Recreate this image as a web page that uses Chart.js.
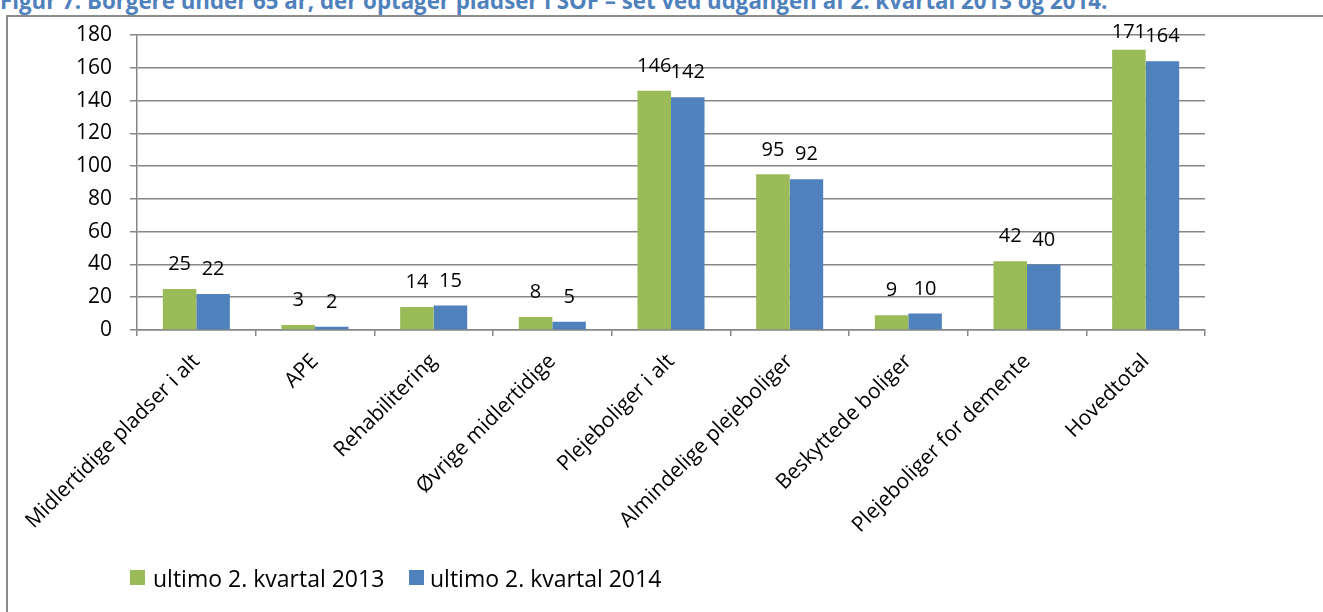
<!DOCTYPE html>
<html>
<head>
<meta charset="utf-8">
<script src="https://cdn.jsdelivr.net/npm/chart.js@4/dist/chart.umd.min.js"></script>
<style>
  html, body { margin: 0; padding: 0; background: #fff; }
  body { width: 1323px; height: 612px; position: relative; overflow: hidden; font-family: "Open Sans", sans-serif; }
  #title { position: absolute; left: 0px; top: -11px; white-space: nowrap; font-family: "Open Sans", sans-serif; font-weight: bold; font-size: 22px; color: #4f81bd; line-height: 24px; }
  #frame { position: absolute; left: 6px; top: 15px; width: 1400px; height: 700px; border-left: 2px solid #8c8c8c; border-top: 2px solid #8c8c8c; }
  #wrap { position: absolute; left: 0; top: 0; width: 1323px; height: 612px; }
  #legend { position: absolute; left: 0; top: 563px; height: 30px; font-size: 23px; color: #000; }
  .item { position: absolute; top: 0; white-space: nowrap; line-height: 30px; }
  .box { position: absolute; top: 7px; width: 15px; height: 15px; }
</style>
</head>
<body>
<div id="frame"></div>
<div id="title">Figur 7. Borgere under 65 år, der optager pladser i SOF – set ved udgangen af 2. kvartal 2013 og 2014.</div>
<div id="wrap"><canvas id="c" width="1323" height="612"></canvas></div>
<div id="legend"></div>
<script>
const categories = [
  "Midlertidige pladser i alt",
  "APE",
  "Rehabilitering",
  "Øvrige midlertidige",
  "Plejeboliger i alt",
  "Almindelige plejeboliger",
  "Beskyttede boliger",
  "Plejeboliger for demente",
  "Hovedtotal"
];
const seriesNames = ["ultimo 2. kvartal 2013", "ultimo 2. kvartal 2014"];
const values2013 = [25, 3, 14, 8, 146, 95, 9, 42, 171];
const values2014 = [22, 2, 15, 5, 142, 92, 10, 40, 164];
const yTicks = [0, 20, 40, 60, 80, 100, 120, 140, 160, 180];
const colors = ["#9bbb59", "#4f81bd"];

// fit title width to the reference span
(function () {
  const t = document.getElementById('title');
  const w = t.getBoundingClientRect().width;
  if (w > 0) t.style.fontSize = (22 * 1108 / w).toFixed(2) + 'px';
})();

// legend (HTML)
const legendEl = document.getElementById('legend');
const legendPos = [{box: 130, text: 153}, {box: 409, text: 430}];
seriesNames.forEach((n, i) => {
  const b = document.createElement('div');
  b.className = 'box'; b.style.left = legendPos[i].box + 'px'; b.style.background = colors[i];
  legendEl.appendChild(b);
  const t = document.createElement('div');
  t.className = 'item'; t.style.left = legendPos[i].text + 'px'; t.textContent = n;
  legendEl.appendChild(t);
});

const valueLabels = {
  id: 'valueLabels',
  afterDatasetsDraw(chart) {
    const ctx = chart.ctx;
    ctx.save();
    ctx.font = '20px "Open Sans", sans-serif';
    ctx.fillStyle = '#000';
    ctx.textAlign = 'center';
    ctx.textBaseline = 'middle';
    chart.data.datasets.forEach((ds, di) => {
      const meta = chart.getDatasetMeta(di);
      meta.data.forEach((bar, i) => {
        let y = bar.y - 24.5;
        if (y < 32) y = 32;
        ctx.fillText(String(ds.data[i]), bar.x, y);
      });
    });
    ctx.restore();
  }
};

new Chart(document.getElementById('c'), {
  type: 'bar',
  data: {
    labels: categories,
    datasets: [
      { label: seriesNames[0], data: values2013, backgroundColor: colors[0], borderWidth: 0 },
      { label: seriesNames[1], data: values2014, backgroundColor: colors[1], borderWidth: 0 }
    ]
  },
  options: {
    responsive: false,
    animation: false,
    devicePixelRatio: 1,
    layout: { padding: { top: 35, left: 0, right: 118, bottom: 0 } },
    plugins: { legend: { display: false }, tooltip: { enabled: false }, title: { display: false } },
    datasets: { bar: { categoryPercentage: 0.565, barPercentage: 1.0 } },
    scales: {
      x: {
        offset: true,
        grid: { display: true, drawOnChartArea: false, drawTicks: true, tickLength: 6, color: '#868686', lineWidth: 1.5, offset: true },
        border: { display: true, color: '#868686', width: 1.5 },
        ticks: { minRotation: 45, maxRotation: 45, autoSkip: false, padding: 13, color: '#000', font: { family: '"Open Sans", sans-serif', size: 21 } },
        afterFit(scale) { scale.height = 282; }
      },
      y: {
        min: 0, max: 180,
        afterBuildTicks(scale) { scale.ticks = yTicks.map(v => ({ value: v })); },
        grid: { color: '#868686', lineWidth: 1.5, drawTicks: true, tickLength: 7 },
        border: { display: true, color: '#868686', width: 1.5 },
        ticks: { padding: 18, color: '#000', font: { family: '"Open Sans", sans-serif', size: 21 } },
        afterFit(scale) { scale.width = 137; }
      }
    }
  },
  plugins: [valueLabels]
});
</script>
</body>
</html>
